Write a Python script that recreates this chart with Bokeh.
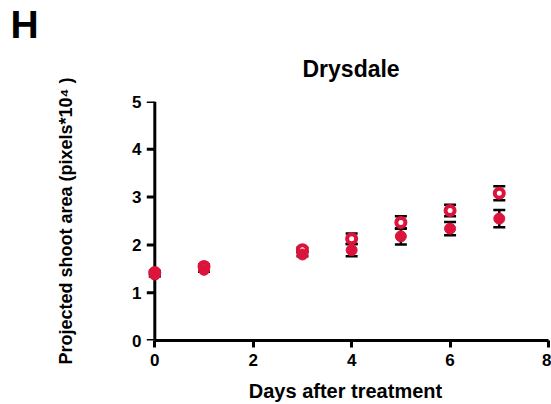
from bokeh.plotting import figure
from bokeh.models import Range1d, Whisker, ColumnDataSource, TeeHead, Span, Title
from bokeh.embed import file_html
from bokeh.resources import INLINE

# Data
days = [0, 1, 3, 4, 5, 6, 7]
open_mean = [1.42, 1.55, 1.90, 2.13, 2.47, 2.72, 3.08]
open_err = [0.04, 0.04, 0.04, 0.11, 0.13, 0.12, 0.145]
filled_mean = [1.38, 1.48, 1.80, 1.89, 2.18, 2.34, 2.55]
filled_err = [0.04, 0.04, 0.04, 0.13, 0.17, 0.14, 0.18]

x_ticks = [0, 2, 4, 6, 8]
y_ticks = [0, 1, 2, 3, 4, 5]

title_text = "Drysdale"
panel_letter = "H"
x_label = "Days after treatment"
y_label = "Projected shoot area (pixels*10\u2074 )"

RED = "#DC143C"
FONT = "Liberation Sans"

W, H = 551, 404
BORDER_L, BORDER_R, BORDER_T, BORDER_B = 142, 3, 100, 63
X_START, X_END = -0.25, 8
TICK_PX = 8

open_src = ColumnDataSource(dict(
    x=days, y=open_mean,
    lo=[m - e for m, e in zip(open_mean, open_err)],
    hi=[m + e for m, e in zip(open_mean, open_err)],
))
filled_src = ColumnDataSource(dict(
    x=days, y=filled_mean,
    lo=[m - e for m, e in zip(filled_mean, filled_err)],
    hi=[m + e for m, e in zip(filled_mean, filled_err)],
))

p = figure(width=W, height=H, output_backend="svg", toolbar_location=None,
           x_range=Range1d(X_START, X_END), y_range=Range1d(0, 5),
           min_border_left=BORDER_L, min_border_right=BORDER_R,
           min_border_top=BORDER_T, min_border_bottom=BORDER_B)

p.grid.visible = False
p.outline_line_color = None
p.background_fill_color = "white"
p.border_fill_color = "white"

# panel letter (outermost title)
p.title.text = panel_letter
p.title.align = "left"
p.title.offset = 10 - BORDER_L
p.title.text_font = FONT
p.title.text_font_size = "39px"
p.title.text_font_style = "bold"
p.title.text_color = "black"
p.title.standoff = 0

# chart title (inner title, next to the plot)
main_title = Title(text=title_text, align="left", offset=302 - BORDER_L,
                   vertical_align="top", standoff=20,
                   text_font=FONT, text_font_size="23px", text_font_style="bold",
                   text_color="black")
try:
    main_title.padding = dict(left=0, right=0, top=0, bottom=8)
except Exception:
    pass
p.add_layout(main_title, "above")

# y axis line at x = 0 and outward ticks
p.add_layout(Span(location=0, dimension="height", line_color="black",
                  line_width=3, level="underlay"))
px_per_unit = (W - BORDER_L - BORDER_R) / (X_END - X_START)
tick_len = TICK_PX / px_per_unit
tick_src = ColumnDataSource(dict(x0=[0] * len(y_ticks), x1=[-tick_len] * len(y_ticks),
                                 y=y_ticks))
p.segment(x0="x0", y0="y", x1="x1", y1="y", source=tick_src,
          line_color="black", line_width=3)

for src in (open_src, filled_src):
    w = Whisker(source=src, base="x", lower="lo", upper="hi",
                line_color="black", line_width=2.5,
                upper_head=TeeHead(size=12, line_width=2.5, line_color="black"),
                lower_head=TeeHead(size=12, line_width=2.5, line_color="black"))
    p.add_layout(w)

p.scatter("x", "y", source=open_src, size=9, marker="circle",
          fill_color="white", line_color=RED, line_width=4)
p.scatter("x", "y", source=filled_src, size=11, marker="circle",
          fill_color=RED, line_color=RED, line_width=1)

for ax in (p.xaxis[0], p.yaxis[0]):
    ax.major_label_text_font = FONT
    ax.major_label_text_font_style = "bold"
    ax.major_label_text_font_size = "17px"
    ax.major_label_text_color = "black"
    ax.minor_tick_line_color = None
    ax.axis_label_text_font = FONT
    ax.axis_label_text_font_style = "bold"
    ax.axis_label_text_color = "black"

xa = p.xaxis[0]
xa.ticker = x_ticks
xa.bounds = (0, 8)
xa.axis_line_width = 3
xa.axis_line_color = "black"
xa.major_tick_line_width = 3
xa.major_tick_line_color = "black"
xa.major_tick_out = 7
xa.major_tick_in = 0
xa.major_label_standoff = 6
xa.axis_label = x_label
xa.axis_label_text_font_size = "20px"
xa.axis_label_standoff = 11

ya = p.yaxis[0]
ya.ticker = y_ticks
ya.axis_line_color = None
ya.major_tick_line_color = None
ya.major_tick_out = 0
ya.major_tick_in = 0
ya.major_label_standoff = 1
ya.axis_label = y_label
ya.axis_label_text_font_size = "18px"
ya.axis_label_standoff = 53

open("out.html", "w").write(file_html(p, INLINE))
